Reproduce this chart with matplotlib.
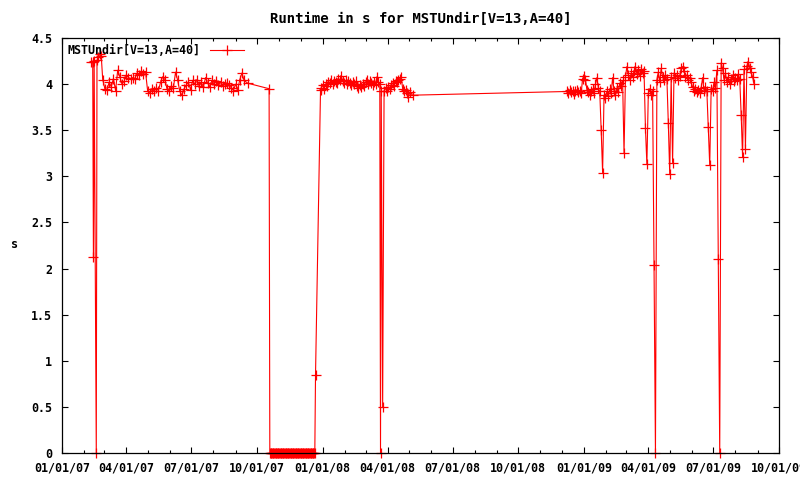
import numpy as np
import pandas as pd
import matplotlib
matplotlib.use("Agg")
import matplotlib.pyplot as plt
import matplotlib.dates as mdates
from matplotlib.ticker import FuncFormatter

plt.rcParams["font.family"] = "DejaVu Sans Mono"
plt.rcParams["font.weight"] = "bold"
plt.rcParams["font.size"] = 8.4

title = "Runtime in s for MSTUndir[V=13,A=40]"
series_name = "MSTUndir[V=13,A=40]"

# first few runs, irregular dates
early_dates = ["2007-02-11", "2007-02-13", "2007-02-14", "2007-02-15", "2007-02-18",
               "2007-02-19", "2007-02-21", "2007-02-23", "2007-02-25"]
early_vals = [4.24, 4.24, 2.12, 4.25, 0.0, 4.26, 4.29, 4.33, 4.30]

# spring/summer 2007, every 3 days from 2007-02-27
run1_vals = [4.05, 3.95, 3.94, 4.02, 3.97, 4.06, 3.93, 4.15, 4.08, 4.00,
             4.03, 4.10, 4.07, 4.06, 4.07, 4.06, 4.12, 4.10, 4.14, 4.11,
             4.13, 3.92, 3.90, 3.95, 3.92, 3.96, 3.93, 4.02, 4.08, 4.05,
             3.95, 3.92, 3.98, 3.96, 4.13, 4.04, 3.92, 3.88, 3.95, 3.99,
             4.02, 3.94, 4.04, 4.00, 4.05, 3.98, 4.02, 3.97, 4.07, 4.01,
             3.97, 4.04, 4.00, 4.03, 3.99, 4.02, 3.98, 4.00, 4.01, 3.99,
             3.96, 3.93, 4.00, 3.94, 4.05, 4.12, 4.04]

gap1_dates = ["2007-09-18", "2007-10-18"]
gap1_vals = [4.01, 3.95]

# broken runs, daily from 2007-10-19
zero_vals = [0.0, 0.0, 0.0, 0.0, 0.0, 0.0, 0.0, 0.0, 0.0, 0.0, 0.0, 0.0, 0.0, 0.0, 0.0, 0.0,
             0.0, 0.0, 0.0, 0.0, 0.0, 0.0, 0.0, 0.0, 0.0, 0.0, 0.0, 0.0, 0.0, 0.0, 0.0, 0.0,
             0.0, 0.0, 0.0, 0.0, 0.0, 0.0, 0.0, 0.0, 0.0, 0.0, 0.0, 0.0, 0.0, 0.0, 0.0, 0.0,
             0.0, 0.0, 0.0, 0.0, 0.0, 0.0, 0.0, 0.0, 0.0, 0.0, 0.0, 0.0, 0.0, 0.0, 0.0, 0.0]

recover_dates = ["2007-12-22", "2007-12-29"]
recover_vals = [0.85, 3.94]

# winter 2008, every 2 days from 2007-12-30
run2_vals = [3.96, 3.99, 3.95, 4.00, 3.98, 4.02, 4.01, 4.04, 4.00, 4.03,
             4.02, 4.01, 4.06, 4.04, 4.09, 4.03, 4.01, 4.04, 4.00, 4.03,
             4.01, 3.99, 4.02, 4.00, 4.03, 3.98, 3.96, 3.99, 3.97, 4.00,
             3.98, 4.02, 4.04, 4.00, 4.03, 4.01, 3.99, 4.02, 4.00, 4.08,
             4.02, 4.00]

drop_dates = ["2008-03-22", "2008-03-23", "2008-03-25"]
drop_vals = [0.0, 3.93, 0.5]

# every 2 days from 2008-03-27
run3_vals = [3.93, 3.96, 3.92, 3.97, 3.95, 3.99, 4.01, 3.98, 4.03, 4.02,
             4.05, 4.06, 4.08, 3.95, 3.92, 3.94, 3.90, 3.86, 3.91]

gap2_dates = ["2008-05-06"]
gap2_vals = [3.88]

# every 2 days from 2008-12-08
run4_vals = [3.92, 3.90, 3.94, 3.91, 3.93, 3.89, 3.92, 3.94, 3.91, 3.93,
             3.90, 4.06, 4.09, 4.05, 3.94, 3.91, 3.88, 3.92, 3.95, 3.90,
             4.00, 4.07, 3.96, 3.92, 3.50, 3.04, 3.88, 3.85, 3.92, 3.87,
             3.95, 3.90, 4.07, 3.93, 3.88, 3.96, 3.91, 4.01, 3.98, 4.04,
             3.25, 4.08, 4.19, 4.10, 4.05, 4.12, 4.08, 4.14, 4.19, 4.11,
             4.15, 4.09, 4.16, 4.12, 4.14, 3.52, 3.13, 3.90, 3.95, 3.88,
             3.93, 2.04, 0.00, 4.05, 4.13, 4.02, 4.17, 4.08, 4.04, 4.10,
             4.06, 3.58, 3.02, 4.08, 3.15, 4.12, 4.07, 4.10, 4.05, 4.09,
             4.17, 4.19, 4.14, 4.08, 4.10, 4.05, 4.07, 4.02, 3.97, 3.93,
             3.95, 3.91, 3.94, 3.90, 3.96, 4.07, 3.93, 3.97, 3.92, 3.53,
             3.12, 3.95, 3.93, 4.02, 3.96, 4.15, 2.10, 0.00, 4.23, 4.17,
             4.05, 4.12, 4.02, 4.08, 4.00, 4.06, 4.10, 4.03, 4.07, 4.04,
             4.11, 4.06, 3.67, 3.21, 4.16, 3.30, 4.20, 4.24, 4.18, 4.13,
             4.08, 4.00]

pieces = [
    (pd.to_datetime(early_dates), early_vals),
    (pd.date_range("2007-02-27", periods=len(run1_vals), freq="3D"), run1_vals),
    (pd.to_datetime(gap1_dates), gap1_vals),
    (pd.date_range("2007-10-19", periods=len(zero_vals), freq="D"), zero_vals),
    (pd.to_datetime(recover_dates), recover_vals),
    (pd.date_range("2007-12-30", periods=len(run2_vals), freq="2D"), run2_vals),
    (pd.to_datetime(drop_dates), drop_vals),
    (pd.date_range("2008-03-27", periods=len(run3_vals), freq="2D"), run3_vals),
    (pd.to_datetime(gap2_dates), gap2_vals),
    (pd.date_range("2008-12-08", periods=len(run4_vals), freq="2D"), run4_vals),
]
dates = np.concatenate([np.asarray(d) for d, v in pieces])
vals = np.concatenate([np.asarray(v, dtype=float) for d, v in pieces])

fig = plt.figure(figsize=(8, 4.8), dpi=100)
ax = fig.add_axes([0.0775, 0.05625, 0.89625, 0.86458])

ax.plot(dates, vals, color="#ff0000", lw=0.8, marker="+", ms=7, mew=0.9,
        label=series_name, clip_on=False)

ax.set_xlim(pd.Timestamp("2007-01-01"), pd.Timestamp("2009-10-01"))
ax.set_ylim(0, 4.5)
ax.set_yticks(np.arange(0, 4.51, 0.5))
ax.yaxis.set_major_formatter(FuncFormatter(lambda v, p: "%g" % v))
ax.xaxis.set_major_locator(mdates.MonthLocator(bymonth=(1, 4, 7, 10)))
ax.xaxis.set_minor_locator(mdates.MonthLocator())
ax.xaxis.set_major_formatter(mdates.DateFormatter("%m/%d/%y"))

ax.tick_params(which="both", direction="in", top=True, right=True, width=0.8)
ax.tick_params(which="major", length=4.5)
ax.tick_params(which="minor", length=2.5)
ax.tick_params(axis="x", pad=6)
ax.tick_params(axis="y", pad=7)
for s in ax.spines.values():
    s.set_linewidth(0.9)

ax.set_title(title, pad=11, fontweight="bold")
fig.text(14 / 800, 1 - 245 / 480, "s", ha="center", va="center")

ax.legend(loc="upper left", frameon=False, markerfirst=False, handlelength=2.9,
          borderaxespad=0.3, handletextpad=0.8, borderpad=0.2)

fig.savefig("out.png", dpi=100)
